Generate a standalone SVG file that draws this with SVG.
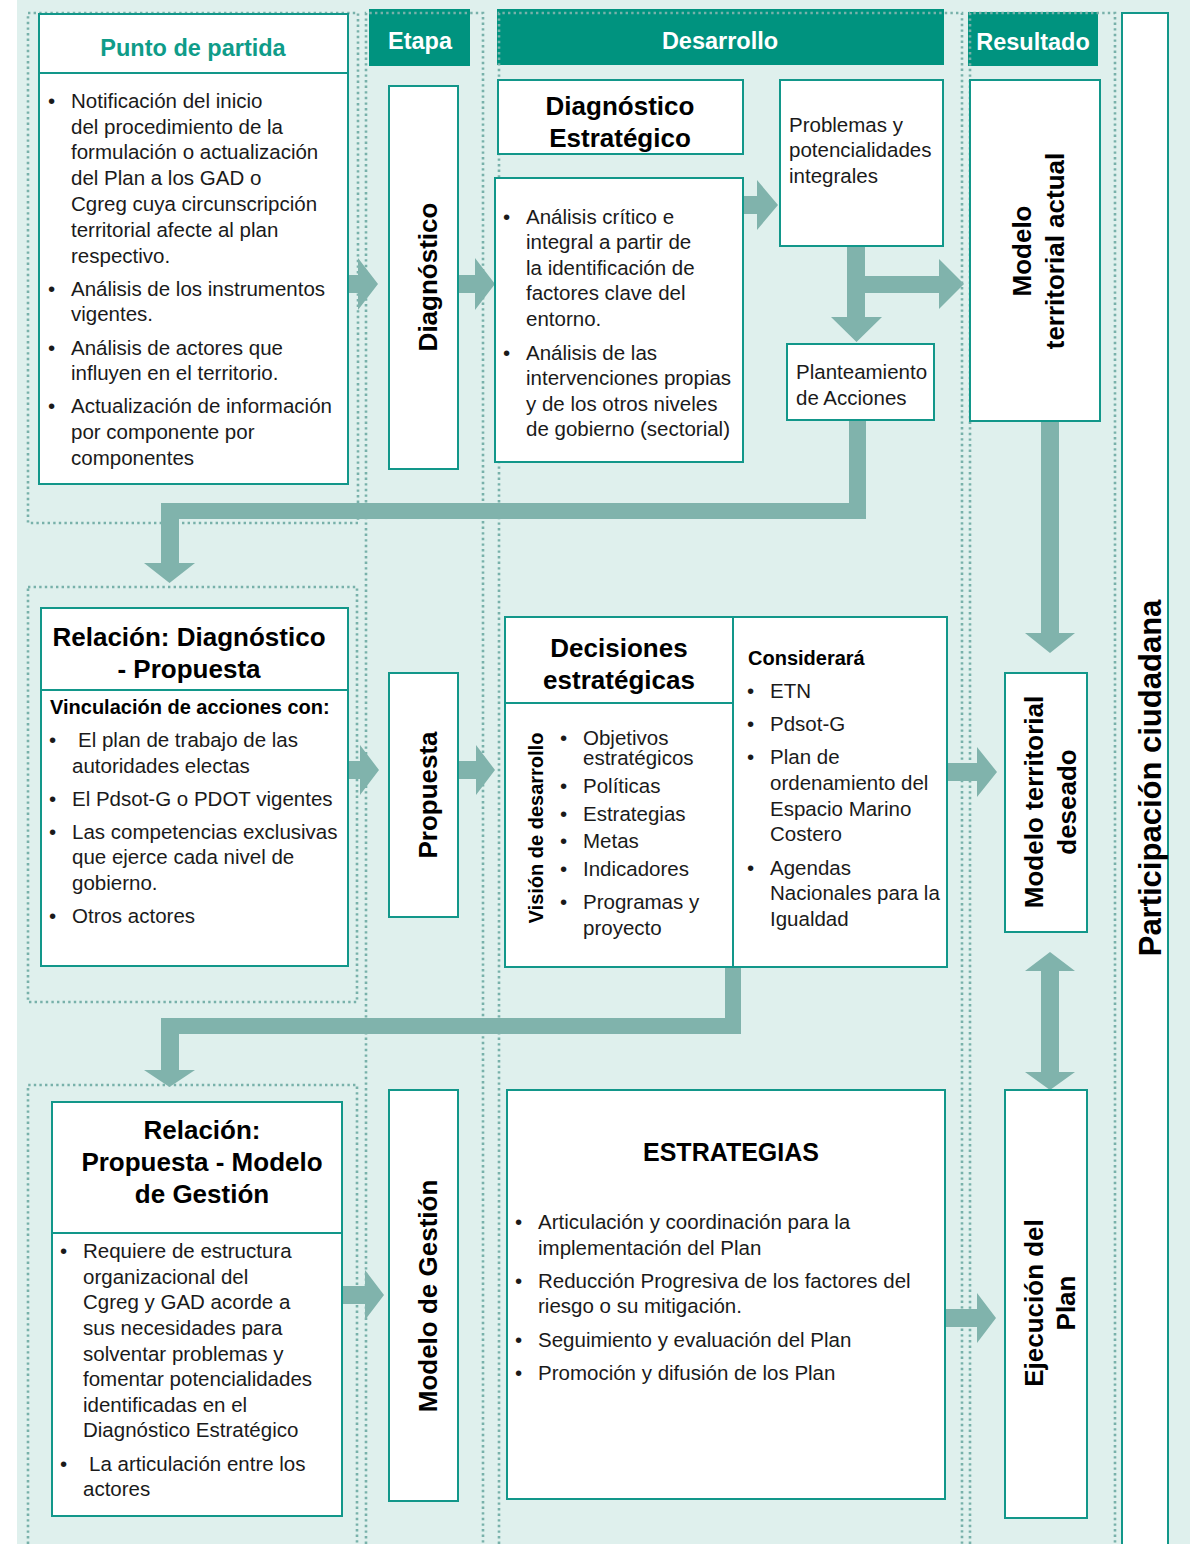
<svg xmlns="http://www.w3.org/2000/svg" width="1195" height="1544" viewBox="0 0 1195 1544">
<defs>
<style>
.bg{fill:#dff0ed}
.box{fill:#fff;stroke:#12978a;stroke-width:2}
.ln{stroke:#12978a;stroke-width:2;fill:none}
.hdr{fill:#00937f}
.dot{fill:none;stroke:#78b1aa;stroke-width:2.6;stroke-dasharray:2.4 3.2}
.arr{fill:#80b3ac}
text{font-family:"Liberation Sans",Arial,Helvetica,sans-serif;fill:#1a1a1a}
.t{font-size:20.5px}
.b{font-weight:bold}
.ti{font-size:26px;font-weight:bold;fill:#000}
.h{font-size:23.5px;font-weight:bold;fill:#fff}
.m{text-anchor:middle}
</style>
</defs>
<rect class="bg" x="17" y="0" width="1173" height="1544"/>

<g id="headers">
<rect class="hdr" x="369" y="9" width="101" height="57"/>
<text class="h m" x="420" y="49">Etapa</text>
<rect class="hdr" x="497" y="9" width="447" height="56"/>
<text class="h m" x="720" y="49">Desarrollo</text>
<rect class="hdr" x="968" y="12" width="130" height="54"/>
<text class="h m" x="1033" y="50">Resultado</text>
</g>

<g id="dotted-frames">
<rect class="dot" x="28" y="13" width="330" height="510"/>
<rect class="dot" x="28" y="587" width="329" height="415"/>
<path class="dot" d="M28,1544 V1085 H357 V1544"/>
<path class="dot" d="M366,1544 V13 H483 V1544"/>
<path class="dot" d="M499,1544 V13 H962 V1544"/>
<path class="dot" d="M970,1544 V13 H1115 V1544"/>
</g>

<g id="participacion">
<rect class="box" x="1122" y="13" width="46" height="1535"/>
<text class="b" style="font-size:31px;fill:#000" text-anchor="middle" transform="translate(1161,778) rotate(-90)">Participación ciudadana</text>
</g>

<g id="connectors">
<polygon class="arr" points="348,275 358,275 358,258 378,284 358,310 358,293 348,293"/>
<polygon class="arr" points="458,275 475,275 475,258 495,284 475,310 475,293 458,293"/>
<polygon class="arr" points="743,196 757,196 757,180 778,205 757,230 757,214 743,214"/>
<polygon class="arr" points="847,246 865,246 865,276 939,276 939,259 964,284 939,309 939,293 865,293 865,317 882,317 856.5,342 831,317 847,317"/>
<polygon class="arr" points="849,420 866,420 866,519 179,519 179,563 195,563 169.5,583 144,563 161,563 161,503 849,503"/>
<polygon class="arr" points="1041,421 1059,421 1059,633 1075,633 1050,653 1025,633 1041,633"/>
<polygon class="arr" points="348,761 360,761 360,745 379,770 360,795 360,779 348,779"/>
<polygon class="arr" points="458,761 476,761 476,745 495,770 476,795 476,779 458,779"/>
<polygon class="arr" points="947,763 977,763 977,747 997,772 977,797 977,781 947,781"/>
<polygon class="arr" points="725,967 741,967 741,1034 179,1034 179,1070 195,1070 169.5,1087 144,1070 161,1070 161,1018 725,1018"/>
<polygon class="arr" points="1050,952 1075,971 1059,971 1059,1072 1075,1072 1050,1090 1025,1072 1041,1072 1041,971 1025,971"/>
<polygon class="arr" points="342,1286 365,1286 365,1270 384,1295 365,1320 365,1304 342,1304"/>
<polygon class="arr" points="945,1309 977,1309 977,1293 996,1318 977,1343 977,1327 945,1327"/>
</g>

<g id="punto-de-partida">
<rect class="box" x="39" y="14" width="309" height="470"/>
<line class="ln" x1="39" y1="73" x2="348" y2="73"/>
<text class="m b" style="font-size:23.5px;fill:#0f9c89" x="193" y="56">Punto de partida</text>
<g class="t">
<text x="48" y="108">•</text><text x="71" y="108">Notificación del inicio</text>
<text x="71" y="134">del procedimiento de la</text>
<text x="71" y="159">formulación o actualización</text>
<text x="71" y="185">del Plan a los GAD o</text>
<text x="71" y="211">Cgreg cuya circunscripción</text>
<text x="71" y="237">territorial afecte al plan</text>
<text x="71" y="263">respectivo.</text>
<text x="48" y="296">•</text><text x="71" y="296">Análisis de los instrumentos</text>
<text x="71" y="321">vigentes.</text>
<text x="48" y="355">•</text><text x="71" y="355">Análisis de actores que</text>
<text x="71" y="380">influyen en el territorio.</text>
<text x="48" y="413">•</text><text x="71" y="413">Actualización de información</text>
<text x="71" y="439">por componente por</text>
<text x="71" y="465">componentes</text>
</g>
</g>

<g id="etapa-diagnostico">
<rect class="box" x="389" y="86" width="69" height="383"/>
<text class="ti m" transform="translate(437,277) rotate(-90)">Diagnóstico</text>
</g>

<g id="diagnostico-estrategico">
<rect class="box" x="498" y="80" width="245" height="74"/>
<text class="ti m" x="620" y="115">Diagnóstico</text>
<text class="ti m" x="620" y="147">Estratégico</text>
</g>

<g id="analisis">
<rect class="box" x="495" y="178" width="248" height="284"/>
<g class="t">
<text x="503" y="224">•</text><text x="526" y="224">Análisis crítico e</text>
<text x="526" y="249">integral a partir de</text>
<text x="526" y="275">la identificación de</text>
<text x="526" y="300">factores clave del</text>
<text x="526" y="326">entorno.</text>
<text x="503" y="360">•</text><text x="526" y="360">Análisis de las</text>
<text x="526" y="385">intervenciones propias</text>
<text x="526" y="411">y de los otros niveles</text>
<text x="526" y="436">de gobierno (sectorial)</text>
</g>
</g>

<g id="problemas">
<rect class="box" x="780" y="80" width="163" height="166"/>
<g class="t">
<text x="789" y="132">Problemas y</text>
<text x="789" y="157">potencialidades</text>
<text x="789" y="183">integrales</text>
</g>
</g>

<g id="planteamiento">
<rect class="box" x="787" y="344" width="147" height="76"/>
<g class="t">
<text x="796" y="379">Planteamiento</text>
<text x="796" y="405">de Acciones</text>
</g>
</g>

<g id="modelo-actual">
<rect class="box" x="970" y="80" width="130" height="341"/>
<text class="ti m" transform="translate(1031,251) rotate(-90)">Modelo</text>
<text class="ti m" transform="translate(1064,251) rotate(-90)">territorial actual</text>
</g>

<g id="relacion-diagnostico-propuesta">
<rect class="box" x="41" y="608" width="307" height="358"/>
<line class="ln" x1="41" y1="690" x2="348" y2="690"/>
<text class="ti m" x="189" y="646">Relación: Diagnóstico</text>
<text class="ti m" x="189" y="678">- Propuesta</text>
<text class="b" style="font-size:20px;fill:#000" x="50" y="714">Vinculación de acciones con:</text>
<g class="t">
<text x="49" y="747">•</text><text x="78" y="747">El plan de trabajo de las</text>
<text x="72" y="773">autoridades electas</text>
<text x="49" y="806">•</text><text x="72" y="806">El Pdsot-G o PDOT vigentes</text>
<text x="49" y="839">•</text><text x="72" y="839">Las competencias exclusivas</text>
<text x="72" y="864">que ejerce cada nivel de</text>
<text x="72" y="890">gobierno.</text>
<text x="49" y="923">•</text><text x="72" y="923">Otros actores</text>
</g>
</g>

<g id="etapa-propuesta">
<rect class="box" x="389" y="673" width="69" height="244"/>
<text class="ti m" transform="translate(437,795) rotate(-90)">Propuesta</text>
</g>

<g id="decisiones">
<rect class="box" x="505" y="617" width="228" height="350"/>
<line class="ln" x1="505" y1="703" x2="733" y2="703"/>
<text class="ti m" x="619" y="657">Decisiones</text>
<text class="ti m" x="619" y="689">estratégicas</text>
<text class="b m" style="font-size:20px;fill:#000" transform="translate(543,828) rotate(-90)">Visión de desarrollo</text>
<g class="t">
<text x="560" y="745">•</text><text x="583" y="745">Objetivos</text>
<text x="583" y="765">estratégicos</text>
<text x="560" y="793">•</text><text x="583" y="793">Políticas</text>
<text x="560" y="821">•</text><text x="583" y="821">Estrategias</text>
<text x="560" y="848">•</text><text x="583" y="848">Metas</text>
<text x="560" y="876">•</text><text x="583" y="876">Indicadores</text>
<text x="560" y="909">•</text><text x="583" y="909">Programas y</text>
<text x="583" y="935">proyecto</text>
</g>
</g>

<g id="considerara">
<rect class="box" x="733" y="617" width="214" height="350"/>
<text class="b" style="font-size:20px;fill:#000" x="748" y="665">Considerará</text>
<g class="t">
<text x="747" y="698">•</text><text x="770" y="698">ETN</text>
<text x="747" y="731">•</text><text x="770" y="731">Pdsot-G</text>
<text x="747" y="764">•</text><text x="770" y="764">Plan de</text>
<text x="770" y="790">ordenamiento del</text>
<text x="770" y="816">Espacio Marino</text>
<text x="770" y="841">Costero</text>
<text x="747" y="875">•</text><text x="770" y="875">Agendas</text>
<text x="770" y="900">Nacionales para la</text>
<text x="770" y="926">Igualdad</text>
</g>
</g>

<g id="modelo-deseado">
<rect class="box" x="1005" y="673" width="82" height="259"/>
<text class="ti m" transform="translate(1043,802) rotate(-90)">Modelo territorial</text>
<text class="ti m" transform="translate(1076,802) rotate(-90)">deseado</text>
</g>

<g id="relacion-propuesta-modelo">
<rect class="box" x="52" y="1102" width="290" height="414"/>
<line class="ln" x1="52" y1="1233" x2="342" y2="1233"/>
<text class="ti m" x="202" y="1139">Relación:</text>
<text class="ti m" x="202" y="1171">Propuesta - Modelo</text>
<text class="ti m" x="202" y="1203">de Gestión</text>
<g class="t">
<text x="60" y="1258">•</text><text x="83" y="1258">Requiere de estructura</text>
<text x="83" y="1284">organizacional del</text>
<text x="83" y="1309">Cgreg y GAD acorde a</text>
<text x="83" y="1335">sus necesidades para</text>
<text x="83" y="1361">solventar problemas y</text>
<text x="83" y="1386">fomentar potencialidades</text>
<text x="83" y="1412">identificadas en el</text>
<text x="83" y="1437">Diagnóstico Estratégico</text>
<text x="60" y="1471">•</text><text x="89" y="1471">La articulación entre los</text>
<text x="83" y="1496">actores</text>
</g>
</g>

<g id="etapa-modelo-gestion">
<rect class="box" x="389" y="1090" width="69" height="411"/>
<text class="ti m" transform="translate(437,1296) rotate(-90)">Modelo de Gestión</text>
</g>

<g id="estrategias">
<rect class="box" x="507" y="1090" width="438" height="409"/>
<text class="m b" style="font-size:25px;fill:#000" x="731" y="1161">ESTRATEGIAS</text>
<g class="t">
<text x="515" y="1229">•</text><text x="538" y="1229">Articulación y coordinación para la</text>
<text x="538" y="1255">implementación del Plan</text>
<text x="515" y="1288">•</text><text x="538" y="1288">Reducción Progresiva de los factores del</text>
<text x="538" y="1313">riesgo o su mitigación.</text>
<text x="515" y="1347">•</text><text x="538" y="1347">Seguimiento y evaluación del Plan</text>
<text x="515" y="1380">•</text><text x="538" y="1380">Promoción y difusión de los Plan</text>
</g>
</g>

<g id="ejecucion">
<rect class="box" x="1005" y="1090" width="82" height="428"/>
<text class="ti m" transform="translate(1043,1303) rotate(-90)">Ejecución del</text>
<text class="ti m" transform="translate(1075,1303) rotate(-90)">Plan</text>
</g>
</svg>
